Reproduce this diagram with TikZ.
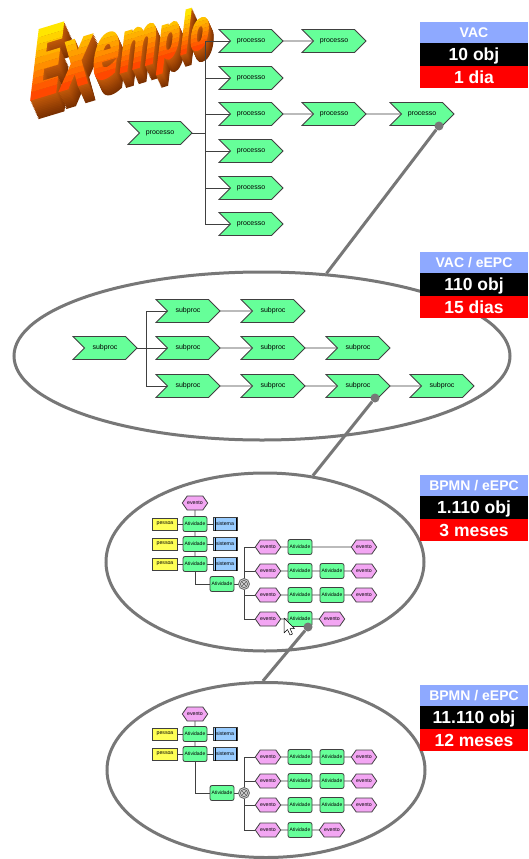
\documentclass[tikz,border=0pt]{standalone}
\usepackage{fontspec}
\usepackage{graphicx}
\setmainfont{Liberation Sans}
\newfontfamily\exfont[BoldFeatures={FakeBold=4}]{DejaVu Sans}
\usetikzlibrary{shapes.geometric,shapes.symbols}
\pgfdeclarelayer{ex}
\pgfdeclarelayer{bg}
\pgfsetlayers{ex,bg,main}
\definecolor{proc}{HTML}{66FF99}
\definecolor{evc}{HTML}{F3A6F3}
\definecolor{pesc}{HTML}{FFFF55}
\definecolor{sisc}{HTML}{99CCFF}
\definecolor{lblue}{HTML}{8EA9FF}
\definecolor{conng}{HTML}{777777}
\definecolor{exyel}{HTML}{FFE600}
\definecolor{exora}{HTML}{FF4800}
\definecolor{exbrn}{HTML}{C45A0A}
\definecolor{exdrk}{HTML}{7A3000}
\tikzset{
  bx/.style={draw=black!75, line width=0.8pt, inner sep=0pt, outer sep=0pt},
  chev/.style={bx, signal, signal from=west, signal to=east, fill=proc, minimum width=64pt, minimum height=23pt, font=\fontsize{7}{8}\selectfont},
  evt/.style={bx, signal, signal from=nowhere, signal to=east and west, signal pointer angle=110, fill=evc, minimum width=23pt, minimum height=14pt, font=\fontsize{5.2}{6}\selectfont},
  atv/.style={bx, rectangle, rounded corners=2pt, fill=proc, minimum width=24pt, minimum height=15pt, font=\fontsize{5}{6}\selectfont},
  pes/.style={bx, rectangle, fill=pesc, minimum width=25pt, minimum height=12pt, font=\fontsize{5.2}{6}\selectfont},
  sis/.style={bx, rectangle, fill=sisc, minimum width=24pt, minimum height=13pt, font=\fontsize{5.2}{6}\selectfont},
  xorg/.style={bx, circle, fill=black!18, draw=black!60, minimum size=11pt},
  ln/.style={draw=black!75, line width=0.9pt},
  ell/.style={ellipse, draw=conng, line width=3pt, inner sep=0pt},
  dotn/.style={circle, fill=conng, minimum size=9pt, inner sep=0pt},
  conn/.style={draw=conng, line width=3pt},
  lbl/.style={anchor=north west, minimum width=108pt, inner sep=0pt, outer sep=0pt, text=white, font=\bfseries\fontsize{17.5}{18}\selectfont, text height=12.6pt, text depth=0pt},
  lb/.style={lbl, fill=lblue, minimum height=21pt, font=\bfseries\fontsize{14}{15}\selectfont, text height=10pt},
  lk/.style={lbl, fill=black, minimum height=23pt},
  lr/.style={lbl, fill=red, minimum height=22pt},
  exl/.style={anchor=base west, inner sep=0pt, outer sep=0pt, transform shape},
}
\begin{document}
\begin{tikzpicture}[x=1pt,y=-1pt]
\useasboundingbox (0,0) rectangle (529,859);

% ---------- Exemplo (WordArt) ----------
\begin{pgfonlayer}{ex}
\fill[white] (0,0) rectangle (529,859);
\foreach \ch/\px/\py/\s in {E/27/100/93.3, x/59.5/90.3/85.6, e/90.5/81.1/78.2, m/117.5/73.1/71.9, p/155.5/61.7/62.8, l/178.5/54.9/57.5, o/188.5/51.9/55}{
  \pgfmathsetmacro\dd{0.27*0.729*\s}
  \foreach \i in {12,11,...,1}{
    \pgfmathsetmacro\ox{\px+0.45*\dd*\i/12}
    \pgfmathsetmacro\oy{\py+\dd*\i/12}
    \pgfmathtruncatemacro\cc{100*\i/12}
    \begin{scope}[shift={(\ox,\oy)}, cm={0.5,0.1515,0.12,1,(0,0)}]
      \node[exl, text=exdrk!\cc!exbrn] at (0,0) {\exfont\bfseries\fontsize{\s}{\s}\selectfont\ch};
    \end{scope}
  }
}
\foreach \ch/\px/\py/\s in {E/27/100/93.3, x/59.5/90.3/85.6, e/90.5/81.1/78.2, m/117.5/73.1/71.9, p/155.5/61.7/62.8, l/178.5/54.9/57.5, o/188.5/51.9/55}{
  \pgfmathsetmacro\hh{0.729*\s}
  \foreach \k in {0,...,9}{
    \pgfmathsetmacro\ya{\k==0 ? 40 : -\k*\hh/10}
    \pgfmathsetmacro\yb{\k==9 ? -\hh-40 : -(\k+1)*\hh/10}
    \pgfmathtruncatemacro\pc{100*\k/9}
    \begin{scope}[shift={(\px,\py)}, cm={0.5,0.1515,0.12,1,(0,0)}]
      \clip (-30,\ya) rectangle (1.5*\s,\yb);
      \node[exl, text=exyel!\pc!exora] at (0,0) {\exfont\bfseries\fontsize{\s}{\s}\selectfont\ch};
    \end{scope}
  }
}
\end{pgfonlayer}

% ---------- ellipses ----------
\node[ell, minimum width=496pt, minimum height=168pt] (ell2) at (262,356) {};
\node[ell, minimum width=318pt, minimum height=178pt] (ell3) at (265,562) {};
\node[ell, minimum width=318pt, minimum height=175pt] (ell4) at (266,770) {};

% ---------- level 1 : processos ----------
\node[chev] (r0) at (160,133) {processo};
\node[chev] (p11) at (251,41) {processo};
\node[chev] (p12) at (334,41) {processo};
\node[chev] (p21) at (251,78) {processo};
\node[chev] (p31) at (251,114) {processo};
\node[chev] (p32) at (334,114) {processo};
\node[chev] (p33) at (422,114) {processo};
\node[chev] (p41) at (251,151) {processo};
\node[chev] (p51) at (251,188) {processo};
\node[chev] (p61) at (251,224) {processo};
\coordinate (t1) at (205,133);

% ---------- level 2 : subproc ----------
\node[chev] (q0) at (105,348) {subproc};
\node[chev] (q11) at (188,311) {subproc};
\node[chev] (q12) at (273,311) {subproc};
\node[chev] (q21) at (188,348) {subproc};
\node[chev] (q22) at (273,348) {subproc};
\node[chev] (q23) at (358,348) {subproc};
\node[chev] (q31) at (188,386) {subproc};
\node[chev] (q32) at (273,386) {subproc};
\node[chev] (q33) at (358,386) {subproc};
\node[chev] (q34) at (442,386) {subproc};
\coordinate (t2) at (146,348);

% ---------- level 3 ----------
\node[evt] (c0) at (195,503) {evento};
\node[pes] (cpA) at (165,524) {pessoa};
\node[atv] (caA) at (195,524) {Atividade};
\node[sis] (csA) at (225,524) {sistema};
\node[pes] (cpB) at (165,544) {pessoa};
\node[atv] (caB) at (195,544) {Atividade};
\node[sis] (csB) at (225,544) {sistema};
\node[pes] (cpC) at (165,564) {pessoa};
\node[atv] (caC) at (195,564) {Atividade};
\node[sis] (csC) at (225,564) {sistema};
\node[atv] (caD) at (222,584) {Atividade};
\node[xorg] (cx) at (244,584) {};
\node[evt] (ce11) at (268,547) {evento};
\node[atv] (ca11) at (300,547) {Atividade};
\node[evt] (ce12) at (364,547) {evento};
\node[evt] (ce21) at (268,571) {evento};
\node[atv] (ca21) at (300,571) {Atividade};
\node[atv] (ca22) at (332,571) {Atividade};
\node[evt] (ce22) at (364,571) {evento};
\node[evt] (ce31) at (268,595) {evento};
\node[atv] (ca31) at (300,595) {Atividade};
\node[atv] (ca32) at (332,595) {Atividade};
\node[evt] (ce32) at (364,595) {evento};
\node[evt] (ce41) at (268,619) {evento};
\node[atv] (ca41) at (300,619) {Atividade};
\node[evt] (ce42) at (332,619) {evento};

% ---------- level 4 ----------
\node[evt] (f0) at (195,714) {evento};
\node[pes] (fpA) at (165,734) {pessoa};
\node[atv] (faA) at (195,734) {Atividade};
\node[sis] (fsA) at (225,734) {sistema};
\node[pes] (fpB) at (165,754) {pessoa};
\node[atv] (faB) at (195,754) {Atividade};
\node[sis] (fsB) at (225,754) {sistema};
\node[atv] (faD) at (222,793) {Atividade};
\node[xorg] (fx) at (244,793) {};
\node[evt] (fe11) at (268,757) {evento};
\node[atv] (fa11) at (300,757) {Atividade};
\node[atv] (fa12) at (332,757) {Atividade};
\node[evt] (fe12) at (364,757) {evento};
\node[evt] (fe21) at (268,781) {evento};
\node[atv] (fa21) at (300,781) {Atividade};
\node[atv] (fa22) at (332,781) {Atividade};
\node[evt] (fe22) at (364,781) {evento};
\node[evt] (fe31) at (268,805) {evento};
\node[atv] (fa31) at (300,805) {Atividade};
\node[atv] (fa32) at (332,805) {Atividade};
\node[evt] (fe32) at (364,805) {evento};
\node[evt] (fe41) at (268,830) {evento};
\node[atv] (fa41) at (300,830) {Atividade};
\node[evt] (fe42) at (332,830) {evento};

% sistema bars and xor marks
\foreach \n in {csA,csB,csC,fsA,fsB}{
  \draw[line width=1pt] ([xshift=2pt]\n.north west) -- ([xshift=2pt]\n.south west);
  \draw[line width=1.4pt] ([xshift=-0.3pt]\n.north east) -- ([xshift=-0.3pt]\n.south east);
}
\foreach \n in {cx,fx}{
  \draw[black!65, line width=0.6pt] (\n.center) circle[radius=3.6pt];
  \draw[black!65, line width=0.6pt] ([shift={(-2.2pt,-2.2pt)}]\n.center) -- ([shift={(2.2pt,2.2pt)}]\n.center)
    ([shift={(-2.2pt,2.2pt)}]\n.center) -- ([shift={(2.2pt,-2.2pt)}]\n.center);
}

% ---------- connectors (behind) ----------
\begin{pgfonlayer}{bg}
\draw[ln] (r0) -- (t1);
\foreach \n in {p11,p21,p31,p41,p51,p61} \draw[ln] (t1) |- (\n);
\draw[ln] (p11) -- (p12);
\draw[ln] (p31) -- (p32) -- (p33);
\draw[ln] (q0) -- (t2);
\foreach \n in {q11,q21,q31} \draw[ln] (t2) |- (\n);
\draw[ln] (q11) -- (q12);
\draw[ln] (q21) -- (q22) -- (q23);
\draw[ln] (q31) -- (q32) -- (q33) -- (q34);
% level 3
\draw[ln] (c0) -- (caA) -- (caB) -- (caC);
\draw[ln] (cpA) -- (caA) -- (csA);
\draw[ln] (cpB) -- (caB) -- (csB);
\draw[ln] (cpC) -- (caC) -- (csC);
\draw[ln] (caC) |- (caD);
\draw[ln] (caD) -- (cx);
\foreach \n in {ce11,ce21,ce31,ce41} \draw[ln] (cx) |- (\n);
\draw[ln] (ce11) -- (ca11) -- (ce12);
\draw[ln] (ce21) -- (ca21) -- (ca22) -- (ce22);
\draw[ln] (ce31) -- (ca31) -- (ca32) -- (ce32);
\draw[ln] (ce41) -- (ca41) -- (ce42);
% level 4
\draw[ln] (f0) -- (faA) -- (faB);
\draw[ln] (fpA) -- (faA) -- (fsA);
\draw[ln] (fpB) -- (faB) -- (fsB);
\draw[ln] (faB) |- (faD);
\draw[ln] (faD) -- (fx);
\foreach \n in {fe11,fe21,fe31,fe41} \draw[ln] (fx) |- (\n);
\draw[ln] (fe11) -- (fa11) -- (fa12) -- (fe12);
\draw[ln] (fe21) -- (fa21) -- (fa22) -- (fe22);
\draw[ln] (fe31) -- (fa31) -- (fa32) -- (fe32);
\draw[ln] (fe41) -- (fa41) -- (fe42);
\end{pgfonlayer}

% ---------- zoom connectors ----------
\node[dotn] (dot1) at (439,126) {};
\node[dotn] (dot2) at (375,398) {};
\node[dotn] (dot3) at (308,627) {};
\draw[conn] (dot1) -- (ell2.52);
\draw[conn] (dot2) -- (ell3.61);
\draw[conn] (dot3) -- (ell4.92);

% ---------- labels ----------
\node[lb] (v1a) at (420,22) {VAC};
\node[lk] (v1b) at (v1a.south west) {10 obj};
\node[lr] (v1c) at (v1b.south west) {1 dia};
\node[lb] (v2a) at (420,252) {VAC / eEPC};
\node[lk] (v2b) at (v2a.south west) {110 obj};
\node[lr] (v2c) at (v2b.south west) {15 dias};
\node[lb] (v3a) at (420,475) {BPMN / eEPC};
\node[lk] (v3b) at (v3a.south west) {1.110 obj};
\node[lr] (v3c) at (v3b.south west) {3 meses};
\node[lb] (v4a) at (420,685) {BPMN / eEPC};
\node[lk] (v4b) at (v4a.south west) {11.110 obj};
\node[lr] (v4c) at (v4b.south west) {12 meses};

% ---------- mouse cursor ----------
\draw[fill=white, draw=black, line width=0.5pt, line join=round] (284,618) -- ++(0,15) -- ++(3.5,-3.5) -- ++(2.5,5.5) -- ++(2.5,-1) -- ++(-2.5,-5.5) -- ++(4.5,0) -- cycle;
\end{tikzpicture}
\end{document}
